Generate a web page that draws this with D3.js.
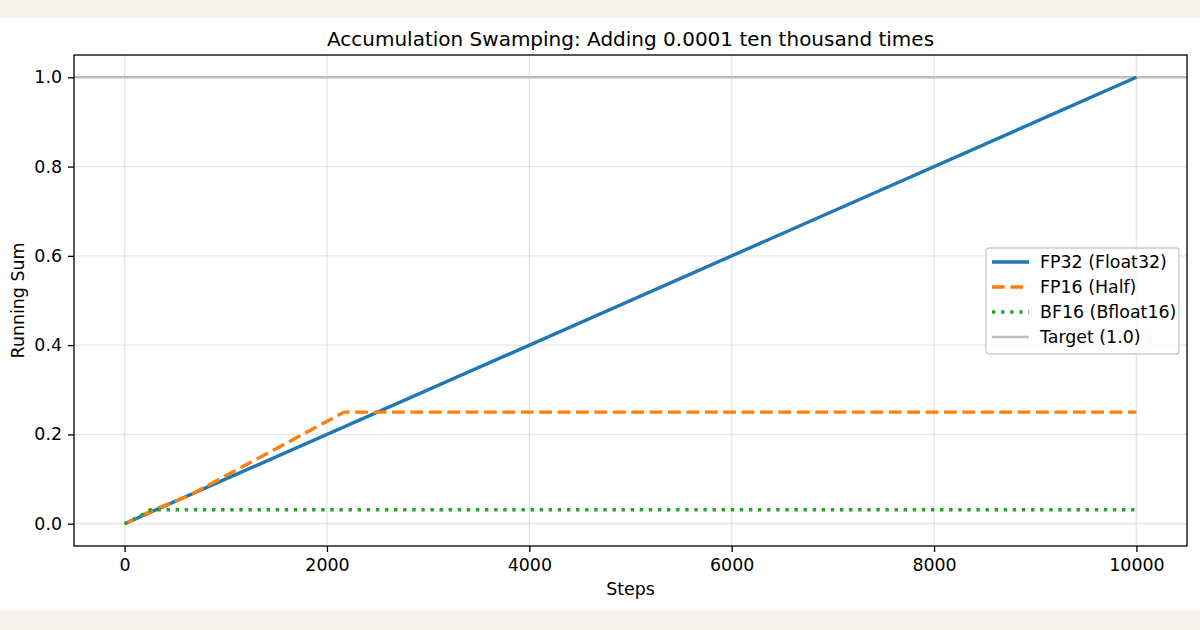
<!DOCTYPE html>
<html>
<head>
<meta charset="utf-8">
<script src="https://cdn.jsdelivr.net/npm/d3@7"></script>
<style>
  body { margin: 0; background: #f5f2ed; }
  svg text { font-family: "DejaVu Sans", sans-serif; fill: #000; }
</style>
</head>
<body>
<div id="chart"></div>
<script>
// ......................
// Data
var fp32Steps = [0, 10000];
var fp32Values = [0, 1.0];

var fp16Steps = [0, 292, 633, 2169, 10000];
var fp16Values = [0, 0.03125, 0.0625, 0.25, 0.25];

var bf16Steps = [0, 80, 256, 10000];
var bf16Values = [0, 0.0078, 0.03125, 0.03125];

var targetValue = 1.0;

var xTicks = [0, 2000, 4000, 6000, 8000, 10000];
var yTicks = [0.0, 0.2, 0.4, 0.6, 0.8, 1.0];

var seriesNames = ["FP32 (Float32)", "FP16 (Half)", "BF16 (Bfloat16)", "Target (1.0)"];

// ......................
// Setting up SVG area
var svgWidth = 1200;
var svgHeight = 630;

var Margin = { top: 55, right: 13, bottom: 84, left: 74 };
var width = svgWidth - Margin.left - Margin.right;
var height = svgHeight - Margin.top - Margin.bottom;

var svg = d3.select("#chart")
    .append("svg")
    .attr("width", svgWidth)
    .attr("height", svgHeight);

// white figure panel
svg.append("rect")
    .attr("x", 0).attr("y", 18)
    .attr("width", svgWidth).attr("height", 592)
    .attr("fill", "#fff");

var g = svg.append("g")
    .attr("transform", `translate(${Margin.left}, ${Margin.top})`);

// ......................
// scales
var xScale = d3.scaleLinear()
    .domain([-500, 10500])
    .range([0, width]);

var yScale = d3.scaleLinear()
    .domain([-0.05, 1.05])
    .range([height, 0]);

// grid lines
g.append("g").selectAll("line").data(xTicks).enter().append("line")
    .attr("x1", d => xScale(d)).attr("x2", d => xScale(d))
    .attr("y1", 0).attr("y2", height)
    .attr("stroke", "#b0b0b0").attr("stroke-opacity", 0.3).attr("stroke-width", 1.4);

g.append("g").selectAll("line").data(yTicks).enter().append("line")
    .attr("x1", 0).attr("x2", width)
    .attr("y1", d => yScale(d)).attr("y2", d => yScale(d))
    .attr("stroke", "#b0b0b0").attr("stroke-opacity", 0.3).attr("stroke-width", 1.4);

// clip to axes
svg.append("defs").append("clipPath").attr("id", "clip")
    .append("rect").attr("width", width).attr("height", height);

var plot = g.append("g").attr("clip-path", "url(#clip)");

// target line
plot.append("line")
    .attr("x1", 0).attr("x2", width)
    .attr("y1", yScale(targetValue)).attr("y2", yScale(targetValue))
    .attr("stroke", "#bdbdbd").attr("stroke-width", 2.6);

var line = d3.line()
    .x(d => xScale(d[0]))
    .y(d => yScale(d[1]));

function pairs(xs, ys) { return xs.map((x, i) => [x, ys[i]]); }

plot.append("path")
    .datum(pairs(fp32Steps, fp32Values))
    .attr("d", line)
    .attr("fill", "none").attr("stroke", "#1f77b4").attr("stroke-width", 3.4);

plot.append("path")
    .datum(pairs(fp16Steps, fp16Values))
    .attr("d", line)
    .attr("fill", "none").attr("stroke", "#ff7f0e").attr("stroke-width", 3.4)
    .attr("stroke-dasharray", "12.8,5.6");

plot.append("path")
    .datum(pairs(bf16Steps, bf16Values))
    .attr("d", line)
    .attr("fill", "none").attr("stroke", "#2ca02c").attr("stroke-width", 3.4)
    .attr("stroke-dasharray", "3.4,5.7");

// ......................
// axes
var xAxis = d3.axisBottom(xScale).tickValues(xTicks).tickSize(6).tickPadding(7)
    .tickFormat(d3.format("d"));
var yAxis = d3.axisLeft(yScale).tickValues(yTicks).tickSize(6).tickPadding(6)
    .tickFormat(d3.format(".1f"));

var xg = g.append("g").attr("transform", `translate(0, ${height})`).call(xAxis);
var yg = g.append("g").call(yAxis);

[xg, yg].forEach(a => {
    a.select(".domain").remove();
    a.selectAll(".tick line").attr("stroke", "#000").attr("stroke-width", 1.3);
    a.selectAll(".tick text").attr("font-size", 17.4).attr("fill", "#000");
});

// frame
g.append("rect")
    .attr("width", width).attr("height", height)
    .attr("fill", "none").attr("stroke", "#000").attr("stroke-width", 1.3);

// ......................
// text
svg.append("text")
    .attr("x", Margin.left + width / 2).attr("y", 46)
    .attr("text-anchor", "middle").attr("font-size", 20)
    .text("Accumulation Swamping: Adding 0.0001 ten thousand times");

svg.append("text")
    .attr("x", Margin.left + width / 2).attr("y", 595)
    .attr("text-anchor", "middle").attr("font-size", 17.4)
    .text("Steps");

svg.append("text")
    .attr("transform", `translate(24, ${Margin.top + height / 2}) rotate(-90)`)
    .attr("text-anchor", "middle").attr("font-size", 17.4)
    .text("Running Sum");

// ......................
// legend
var legendStyles = [
    { color: "#1f77b4", dash: null, w: 3.4 },
    { color: "#ff7f0e", dash: "12.8,5.6", w: 3.4 },
    { color: "#2ca02c", dash: "3.4,5.7", w: 3.4 },
    { color: "#bdbdbd", dash: null, w: 2.6 }
];

var legend = svg.append("g").attr("transform", "translate(986, 248)");

legend.append("rect")
    .attr("width", 193).attr("height", 106).attr("rx", 3)
    .attr("fill", "#fff").attr("fill-opacity", 0.8)
    .attr("stroke", "#ccc").attr("stroke-width", 1.3);

var items = legend.selectAll("g.item").data(seriesNames).enter().append("g")
    .attr("class", "item")
    .attr("transform", (d, i) => `translate(0, ${14 + i * 25})`);

items.append("line")
    .attr("x1", 6).attr("x2", 43).attr("y1", 0).attr("y2", 0)
    .attr("stroke", (d, i) => legendStyles[i].color)
    .attr("stroke-width", (d, i) => legendStyles[i].w)
    .attr("stroke-dasharray", (d, i) => legendStyles[i].dash);

items.append("text")
    .attr("x", 54).attr("y", 6)
    .attr("font-size", 17.4)
    .text(d => d);
</script>
</body>
</html>
